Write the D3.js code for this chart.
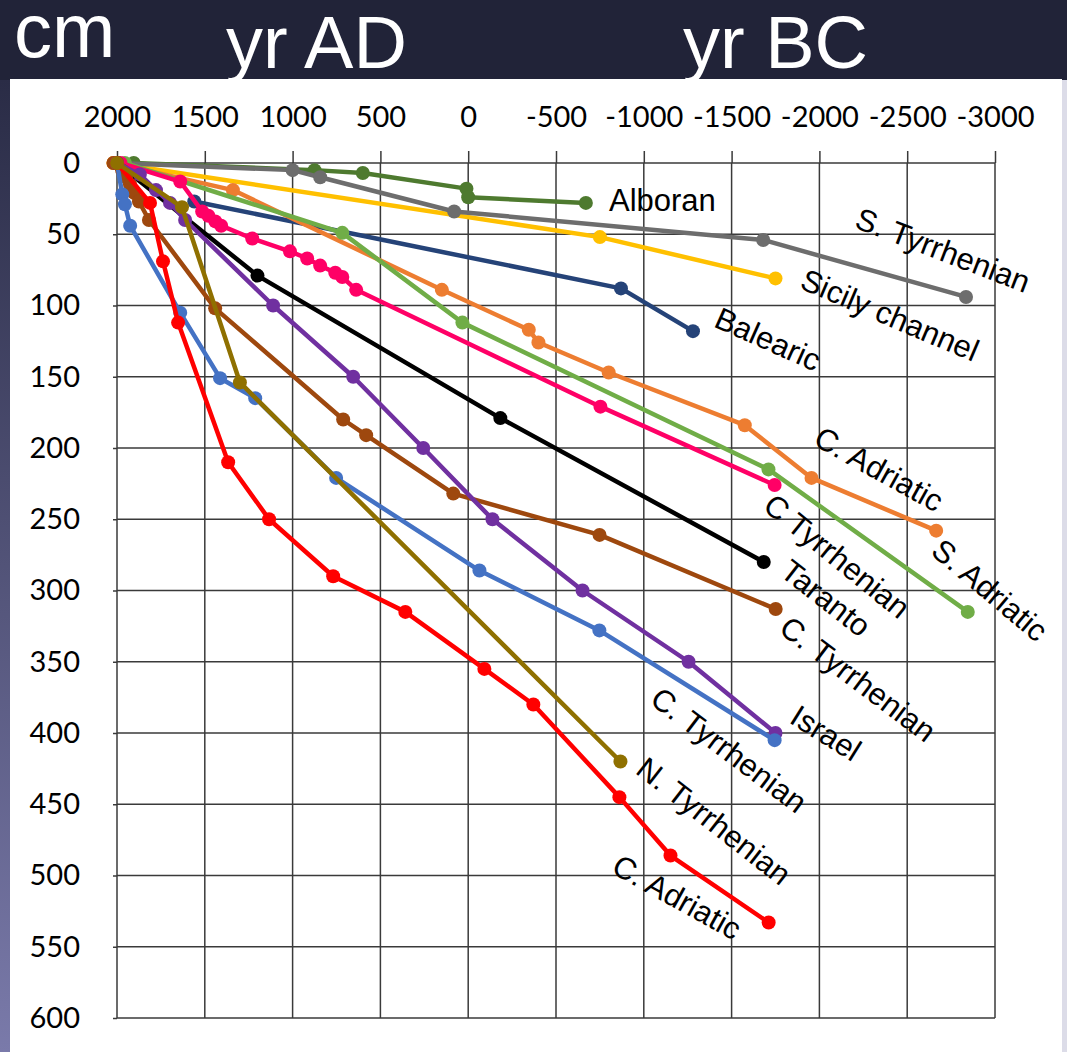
<!DOCTYPE html>
<html>
<head>
<meta charset="utf-8">
<script src="https://cdn.jsdelivr.net/npm/d3@7"></script>
<style>
  html, body { margin: 0; padding: 0; background: #212338; }
  svg { display: block; }
</style>
</head>
<body>
<svg id="chart" width="1067" height="1052"></svg>
<script>
// ---- Data: [year, subsidence in cm] per site ----
const alboran        = [[1905,0],[875,5],[600,7],[10,18],[0,24],[-670,28]];
const sTyrrhenian    = [[2000,0],[1000,5],[843,10],[80,34],[-1680,54],[-2835,94]];
const sicilyChannel  = [[2020,0],[-750,52],[-1750,81]];
const balearic       = [[1560,27],[-870,88],[-1280,118]];
const cAdriaticOr    = [[2020,0],[1340,19],[150,89],[-345,117],[-400,126],[-800,147],[-1575,184],[-1955,221],[-2665,258]];
const sAdriatic      = [[1955,0],[717,49],[33,112],[-1710,215],[-2845,315]];
const cTyrrhenianPk  = [[1980,0],[1640,13],[1515,34],[1480,37],[1440,41],[1407,44],[1230,53],[1015,62],[917,67],[843,72],[757,77],[717,80],[638,89],[-753,171],[-1745,226]];
const taranto        = [[2000,0],[1200,79],[-183,179],[-1683,280]];
const cTyrrhenianBr  = [[2020,0],[1971,5],[1949,10],[1926,15],[1903,21],[1875,27],[1818,40],[1441,102],[712,180],[581,191],[85,232],[-748,261],[-1751,313]];
const israel         = [[2000,0],[1870,8],[1778,19],[1698,28],[1612,40],[1111,100],[655,150],[256,200],[-138,250],[-651,300],[-1255,350],[-1750,400]];
const cTyrrhenianBl  = [[2000,0],[1970,22],[1955,29],[1925,44],[1640,105],[1413,151],[1213,165],[752,221],[-64,286],[-747,328],[-1745,405]];
const cAdriaticRd    = [[2000,0],[1812,28],[1738,69],[1652,112],[1367,210],[1134,250],[769,290],[358,315],[-92,355],[-371,380],[-861,445],[-1152,486],[-1711,533]];
const nTyrrhenian    = [[2000,0],[1630,31],[1300,154],[-867,420]];

const xTicks = [2000, 1500, 1000, 500, 0, -500, -1000, -1500, -2000, -2500, -3000];
const yTicks = [0, 50, 100, 150, 200, 250, 300, 350, 400, 450, 500, 550, 600];

// Drawing order (later series sit on top)
const series = [
  { name: "Alboran",        data: alboran,       color: "#4e7a2f" },
  { name: "Sicily channel", data: sicilyChannel, color: "#ffc000" },
  { name: "S. Tyrrhenian",  data: sTyrrhenian,   color: "#6d6d6d" },
  { name: "Balearic",       data: balearic,      color: "#254378" },
  { name: "C. Adriatic",    data: cAdriaticOr,   color: "#ed7d31" },
  { name: "S. Adriatic",    data: sAdriatic,     color: "#70ad47" },
  { name: "C Tyrrhenian",   data: cTyrrhenianPk, color: "#ff0066" },
  { name: "Taranto",        data: taranto,       color: "#000000" },
  { name: "C. Tyrrhenian",  data: cTyrrhenianBr, color: "#9e480e" },
  { name: "Israel",         data: israel,        color: "#7030a0" },
  { name: "C. Tyrrhenian",  data: cTyrrhenianBl, color: "#4472c4" },
  { name: "C. Adriatic",    data: cAdriaticRd,   color: "#ff0000" },
  { name: "N. Tyrrhenian",  data: nTyrrhenian,   color: "#8f7000" }
];

// Site name tags: centre point and tilt
const tags = [
  { text: "Alboran",        x: 609, y: 211, angle: 0,  anchor: "start" },
  { text: "S. Tyrrhenian",  x: 943, y: 250, angle: 21 },
  { text: "Sicily channel", x: 890, y: 315, angle: 23 },
  { text: "Balearic",       x: 768, y: 339, angle: 24 },
  { text: "C. Adriatic",    x: 879, y: 469, angle: 29 },
  { text: "S. Adriatic",    x: 990, y: 590, angle: 40 },
  { text: "C Tyrrhenian",   x: 837, y: 556, angle: 39 },
  { text: "Taranto",        x: 826, y: 598, angle: 38 },
  { text: "C. Tyrrhenian",  x: 858, y: 679, angle: 37 },
  { text: "Israel",         x: 826, y: 733, angle: 32 },
  { text: "C. Tyrrhenian",  x: 729, y: 750, angle: 37 },
  { text: "N. Tyrrhenian",  x: 714, y: 821, angle: 38 },
  { text: "C. Adriatic",    x: 677, y: 897, angle: 29 }
];

// ---- Layout ----
const W = 1067, H = 1052;
const svg = d3.select("#chart");

const defs = svg.append("defs");
const grad = defs.append("linearGradient").attr("id", "edge")
  .attr("x1", 0).attr("y1", 0).attr("x2", 0).attr("y2", 1);
grad.append("stop").attr("offset", "0%").attr("stop-color", "#2a2c46");
grad.append("stop").attr("offset", "100%").attr("stop-color", "#7a7aaa");

svg.append("rect").attr("width", W).attr("height", H).attr("fill", "#212338");
svg.append("rect").attr("x", 0).attr("y", 80).attr("width", 10).attr("height", H - 80).attr("fill", "url(#edge)");
svg.append("rect").attr("x", 1060).attr("y", 80).attr("width", 7).attr("height", H - 80).attr("fill", "#dcdce8");
svg.append("rect").attr("x", 10).attr("y", 79).attr("width", 1052).attr("height", H - 79).attr("fill", "#ffffff");

// Header captions
const head = svg.append("g").attr("fill", "#ffffff")
  .style("font-family", "'Liberation Sans', Arial, sans-serif");
head.append("text").attr("x", 14).attr("y", 57).style("font-size", "76px").text("cm");
head.append("text").attr("x", 226).attr("y", 68).style("font-size", "74px").text("yr AD");
head.append("text").attr("x", 683).attr("y", 68).style("font-size", "74px").text("yr BC");

// Scales
const x = d3.scaleLinear().domain([2000, -3000]).range([117, 995]);
const y = d3.scaleLinear().domain([0, 600]).range([163, 1018]);

// Grid
const grid = svg.append("g").attr("stroke", "#3a3a3a").attr("stroke-width", 1.5);
grid.selectAll("line.v").data(xTicks).join("line").attr("class", "v")
  .attr("x1", d => x(d)).attr("x2", d => x(d)).attr("y1", y(0)).attr("y2", y(600));
grid.selectAll("line.h").data(yTicks).join("line").attr("class", "h")
  .attr("x1", x(2000)).attr("x2", x(-3000)).attr("y1", d => y(d)).attr("y2", d => y(d));

// Axes
const axisFont = "Lato, 'Open Sans', sans-serif";
const xAxis = svg.append("g").attr("transform", `translate(0,${y(0)})`)
  .call(d3.axisTop(x).tickValues(xTicks).tickSize(12).tickPadding(24).tickFormat(d => String(d)));
const yAxis = svg.append("g").attr("transform", `translate(${x(2000)},0)`)
  .call(d3.axisLeft(y).tickValues(yTicks).tickSize(4).tickPadding(33).tickFormat(d => String(d)));
[xAxis, yAxis].forEach(a => {
  a.select(".domain").remove();
  a.selectAll(".tick line").attr("stroke", "#3a3a3a").attr("stroke-width", 1.5);
  a.selectAll(".tick text").attr("fill", "#000").style("font-family", axisFont).style("font-size", "29px");
});

// Series
const line = d3.line().x(d => x(d[0])).y(d => y(d[1]));
const plot = svg.append("g");
series.forEach(s => {
  const g = plot.append("g");
  g.append("path").datum(s.data).attr("d", line)
    .attr("fill", "none").attr("stroke", s.color).attr("stroke-width", 4.5)
    .attr("stroke-linejoin", "round").attr("stroke-linecap", "round");
  g.selectAll("circle").data(s.data).join("circle")
    .attr("cx", d => x(d[0])).attr("cy", d => y(d[1])).attr("r", 7)
    .attr("fill", s.color);
});

// Site names
svg.append("g").selectAll("text").data(tags).join("text")
  .attr("transform", d => `translate(${d.x},${d.y}) rotate(${d.angle})`)
  .attr("text-anchor", d => d.anchor || "middle")
  .attr("dy", d => d.anchor ? 0 : "0.35em")
  .style("font-family", "'Liberation Sans', Arial, sans-serif")
  .style("font-size", "31px").attr("fill", "#000")
  .text(d => d.text);
</script>
</body>
</html>
